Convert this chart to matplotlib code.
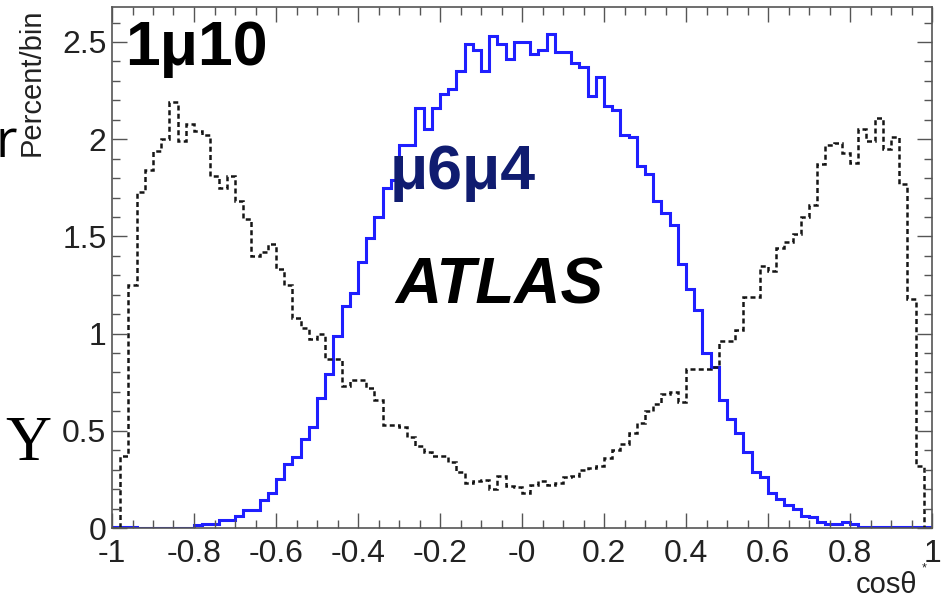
import numpy as np
import matplotlib
matplotlib.use('Agg')
import matplotlib.pyplot as plt
from matplotlib.ticker import MultipleLocator

# cos(theta*) distributions, 100 bins from -1 to 1, percent per bin
# black dashed: 1mu10 trigger, blue solid: mu6mu4 trigger
bin_edges = np.linspace(-1.0, 1.0, 101)

mu10 = [0.00, 0.37, 1.25, 1.73, 1.84, 1.94, 2.00, 2.19, 1.99, 2.08,
        2.04, 2.02, 1.81, 1.75, 1.81, 1.68, 1.59, 1.40, 1.42, 1.46,
        1.33, 1.25, 1.08, 1.03, 0.97, 1.00, 0.87, 0.87, 0.73, 0.76,
        0.76, 0.72, 0.66, 0.53, 0.53, 0.52, 0.47, 0.42, 0.39, 0.37,
        0.37, 0.34, 0.29, 0.23, 0.24, 0.245, 0.20, 0.27, 0.215, 0.21,
        0.18, 0.22, 0.24, 0.22, 0.23, 0.26, 0.27, 0.30, 0.31, 0.32,
        0.36, 0.40, 0.43, 0.49, 0.54, 0.60, 0.64, 0.69, 0.70, 0.65,
        0.82, 0.82, 0.82, 0.83, 0.96, 0.96, 1.02, 1.19, 1.19, 1.35,
        1.32, 1.44, 1.47, 1.51, 1.60, 1.66, 1.87, 1.97, 1.98, 1.93,
        1.88, 2.05, 1.99, 2.11, 1.95, 2.01, 1.77, 1.18, 0.32, 0.00]

mu6mu4 = [0.006, 0.006, 0.006, 0.002, 0.002, 0.002, 0.002, 0.002, 0.002, 0.002,
          0.014, 0.022, 0.022, 0.04, 0.04, 0.06, 0.093, 0.093, 0.146, 0.18,
          0.25, 0.33, 0.365, 0.46, 0.52, 0.67, 0.79, 0.99, 1.14, 1.21,
          1.37, 1.49, 1.60, 1.75, 1.79, 1.97, 1.97, 2.16, 2.05, 2.16,
          2.23, 2.26, 2.35, 2.49, 2.46, 2.35, 2.53, 2.49, 2.41, 2.50,
          2.50, 2.44, 2.46, 2.54, 2.45, 2.45, 2.39, 2.37, 2.22, 2.32,
          2.17, 2.15, 2.02, 2.01, 1.86, 1.82, 1.68, 1.62, 1.56, 1.36,
          1.23, 1.12, 0.90, 0.83, 0.66, 0.56, 0.49, 0.39, 0.29, 0.26,
          0.18, 0.15, 0.12, 0.10, 0.06, 0.055, 0.03, 0.022, 0.022, 0.03,
          0.02, 0.003, 0.003, 0.003, 0.003, 0.003, 0.003, 0.003, 0.003, 0.003]

xtick_vals = [-1, -0.8, -0.6, -0.4, -0.2, 0, 0.2, 0.4, 0.6, 0.8, 1]
xtick_labels = ['-1', '-0.8', '-0.6', '-0.4', '-0.2', '-0', '0.2', '0.4', '0.6', '0.8', '1']
ytick_vals = [0, 0.5, 1, 1.5, 2, 2.5]
ytick_labels = ['0', '0.5', '1', '1.5', '2', '2.5']

W, H = 944, 600
sans = 'Liberation Sans'

fig = plt.figure(figsize=(W / 100, H / 100), dpi=100)
ax = fig.add_axes([112 / W, 72 / H, 820 / W, 521 / H])

ax.stairs(mu6mu4, bin_edges, baseline=0, color='#1f1fff', lw=2.2)
ax.stairs(mu10, bin_edges, baseline=0, color='#151515', lw=1.8,
          linestyle=(0, (2.0, 1.3)))

ax.set_xlim(-1, 1)
ax.set_ylim(0, 2.68)
ax.set_xticks(xtick_vals, labels=xtick_labels)
ax.set_yticks(ytick_vals, labels=ytick_labels)
ax.xaxis.set_minor_locator(MultipleLocator(0.05))
ax.yaxis.set_minor_locator(MultipleLocator(0.1))
ax.tick_params(which='both', direction='in', top=True, right=True,
               color='#555555', width=1.0, labelcolor='#222222')
ax.tick_params(which='major', length=11)
ax.tick_params(which='minor', length=5.5)
ax.tick_params(axis='x', pad=8)
ax.tick_params(axis='y', pad=4)
for lab in ax.get_xticklabels() + ax.get_yticklabels():
    lab.set_fontsize(23)
    lab.set_family(sans)
for sp in ax.spines.values():
    sp.set_color('#555555')
    sp.set_linewidth(1.2)

def fx(px):
    return px / W

def fy(py):
    return 1 - py / H

fig.text(fx(125), fy(65), '1μ10', fontsize=45, fontweight='bold',
         family=sans, va='baseline', color='black')
fig.text(fx(390), fy(189), 'μ6μ4', fontsize=45, fontweight='bold',
         family=sans, va='baseline', color='#101c70')
fig.text(fx(395), fy(303), 'ATLAS', fontsize=46, fontweight='bold',
         fontstyle='italic', family=sans, va='baseline', color='black')

fig.text(fx(32), fy(8), 'Percent/bin', rotation=90, ha='center', va='top',
         fontsize=21, family=sans, color='#222222')
fig.text(fx(917), fy(593), 'cosθ', ha='right', va='baseline',
         fontsize=21, family=sans, color='#222222')
fig.text(fx(922), fy(571), '*', ha='left', va='baseline',
         fontsize=9, family=sans, color='#222222')

# bits of the surrounding slide text, cut off at the left edge
fig.text(fx(-4), fy(157), 'r', fontsize=38, family='Open Sans',
         va='baseline', color='black')
fig.text(fx(5), fy(460), 'Υ', fontsize=46, family='Liberation Serif',
         va='baseline', color='black')

fig.savefig('out.png', dpi=100)
